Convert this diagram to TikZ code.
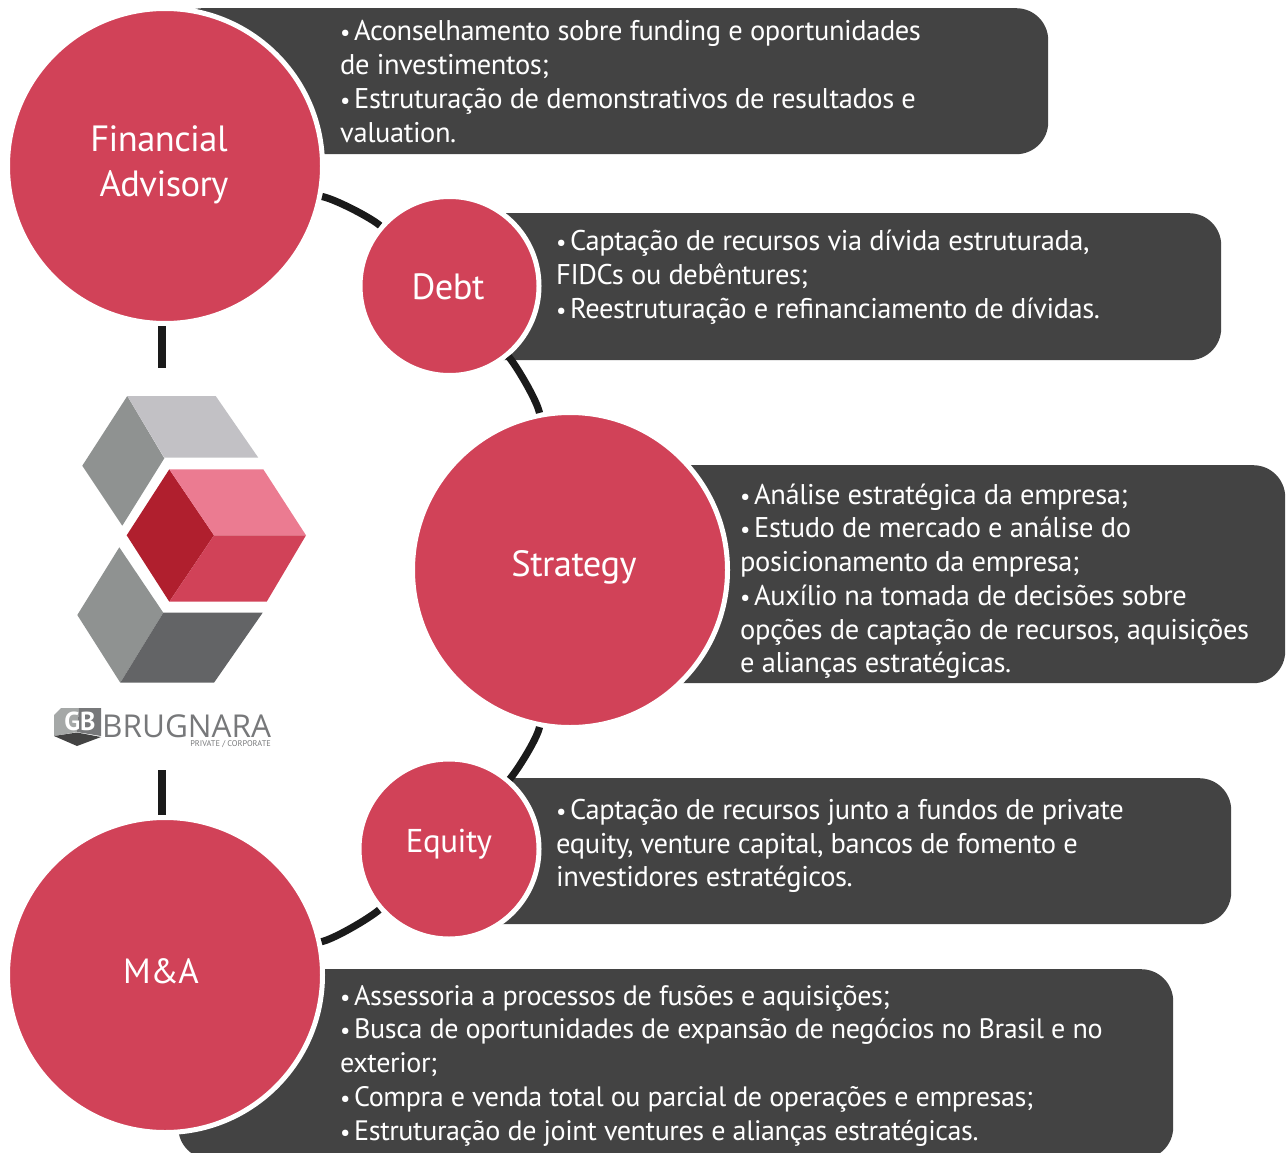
\documentclass[tikz,border=0pt]{standalone}
\usepackage{fontspec}
\setmainfont[LetterSpace=-1.5]{PT Sans}
\newfontfamily\logofont{Open Sans}
\newfontfamily\plainfont{PT Sans}
\definecolor{panelc}{HTML}{434343}
\definecolor{circc}{HTML}{D14258}
\definecolor{linec}{HTML}{1A1A1A}
\definecolor{greyA}{HTML}{8F9291}
\definecolor{greyB}{HTML}{C2C1C5}
\definecolor{greyC}{HTML}{636466}
\definecolor{redA}{HTML}{B01F2E}
\definecolor{redB}{HTML}{EB7B91}
\definecolor{logot}{HTML}{77787A}
\newcommand{\bul}{\makebox[14pt][l]{\fontsize{23}{23}\selectfont •}}
\tikzset{
  panel/.style={fill=panelc,rounded corners=32pt,inner sep=0pt,anchor=north west},
  circ/.style={circle,fill=circc,draw=white,line width=5pt,inner sep=0pt,text=white},
  conn/.style={draw=linec,line width=7.2pt},
  ptext/.style={text=white,align=left,anchor=north west,inner sep=0pt,font=\fontsize{28.5}{33.7}\selectfont},
  clabel/.style={text=white,inner sep=0pt,align=center},
}
\begin{document}
\begin{tikzpicture}[x=1pt,y=-1pt]
\useasboundingbox (0,0) rectangle (1287,1153);
\clip (0,0) rectangle (1287,1153);
% panels
\node[panel,minimum width=878pt,minimum height=146pt] (p1) at (170,8) {};
\node[panel,minimum width=751pt,minimum height=147pt] (p2) at (470,213) {};
\node[panel,minimum width=645pt,minimum height=218pt] (p3) at (640,465) {};
\node[panel,minimum width=761pt,minimum height=146pt] (p4) at (470,778) {};
\node[panel,minimum width=995pt,minimum height=190pt] (p5) at (178,969) {};
% circles
\node[circ,minimum size=315pt] (fa) at (165,166) {};
\node[circ,minimum size=179pt] (debt) at (449.5,286) {};
\node[circ,minimum size=315pt] (strat) at (570,570) {};
\node[circ,minimum size=180pt] (eq) at (449,849) {};
\node[circ,minimum size=315pt] (ma) at (165,975) {};
% connectors
\coordinate (logotop) at (162,368);
\coordinate (logobot) at (162,770);
\draw[conn] (fa) to[out=-11,in=139,looseness=0.5] (debt);
\draw[conn] (debt) to[out=-50.5,in=101,looseness=0.5] (strat);
\draw[conn] (strat) to[out=-101,in=49.3,looseness=0.5] (eq);
\draw[conn] (eq) to[out=221.5,in=12.3,looseness=0.5] (ma);
\draw[conn] (fa.south -| logotop) -- (logotop);
\draw[conn] (logobot) -- (ma.north -| logobot);
% circle labels
\node[clabel,font=\fontsize{36.5}{45}\selectfont] (lfa1) at (159,139) {Financial};
\node[clabel,font=\fontsize{36.5}{45}\selectfont] (lfa2) at (164,187) {Advisory};
\node[clabel,font=\fontsize{36.5}{45}\selectfont] (ldebt) at (448,287) {Debt};
\node[clabel,font=\fontsize{36.5}{45}\selectfont] (lstrat) at (574,567) {Strategy};
\node[clabel,font=\fontsize{33}{40}\selectfont] (leq) at (449,844) {Equity};
\node[clabel,font=\fontsize{35}{42}\selectfont] (lma) at (161,971) {M\&A};
% panel texts
\node[ptext] (t1) at (340,20.5) {\bul Aconselhamento sobre funding e oportunidades\\de investimentos;\\\bul Estruturação de demonstrativos de resultados e\\valuation.};
\node[ptext] (t2) at (556,230) {\bul Captação de recursos via dívida estruturada,\\FIDCs ou debêntures;\\\bul Reestruturação e refinanciamento de dívidas.};
\node[ptext] (t3) at (740,483.5) {\bul Análise estratégica da empresa;\\\bul Estudo de mercado e análise do\\posicionamento da empresa;\\\bul Auxílio na tomada de decisões sobre\\opções de captação de recursos, aquisições\\e alianças estratégicas.};
\node[ptext] (t4) at (556,799) {\bul Captação de recursos junto a fundos de private\\equity, venture capital, bancos de fomento e\\investidores estratégicos.};
\node[ptext,font=\fontsize{28.1}{33.7}\selectfont] (t5) at (340,985) {\bul Assessoria a processos de fusões e aquisições;\\\bul Busca de oportunidades de expansão de negócios no Brasil e no\\exterior;\\\bul Compra e venda total ou parcial de operações e empresas;\\\bul Estruturação de joint ventures e alianças estratégicas.};
% cube logo
\fill[greyA] (127.3,396) -- (164.3,458.3) -- (122.3,525.7) -- (82.3,465.7) -- cycle;
\fill[greyB] (127.3,396) -- (215.7,396) -- (258.3,457.7) -- (164.3,457.7) -- cycle;
\fill[redA] (169.3,469.3) -- (214,535.3) -- (169.3,601.7) -- (126.7,535.3) -- cycle;
\fill[redB] (169.3,469.3) -- (263.3,469.3) -- (306,535.3) -- (214,535.3) -- cycle;
\fill[circc] (214,535.3) -- (306,535.3) -- (266.7,601.7) -- (169.3,601.7) -- cycle;
\fill[greyA] (119.3,547.3) -- (163.3,612.7) -- (120.3,682.7) -- (77.3,615) -- cycle;
\fill[greyC] (163.3,612.7) -- (262.7,612.7) -- (214,682.7) -- (120.3,682.7) -- cycle;
% small logo
\fill[greyA!80!white] (54,715) -- (61,708) -- (79,708) -- (77,732) -- (54,736) -- cycle;
\fill[logot] (79,708) -- (101,708) -- (101,736) -- (77,732) -- cycle;
\fill[panelc] (54,736) -- (77,732.5) -- (101,737) -- (77,746) -- cycle;
\node[inner sep=0pt,text=white,font=\plainfont\bfseries\fontsize{26}{26}\selectfont] (lgb) at (80,721) {GB};
\node[inner sep=0pt,anchor=base west,text=logot,font=\logofont\fontsize{31.5}{30}\selectfont] (lbr) at (102,737) {BRUGNARA};
\node[inner sep=0pt,anchor=base east,text=logot,font=\plainfont\fontsize{8.3}{8}\selectfont] (lpc) at (271,746.5) {PRIVATE / CORPORATE};
\end{tikzpicture}
\end{document}
